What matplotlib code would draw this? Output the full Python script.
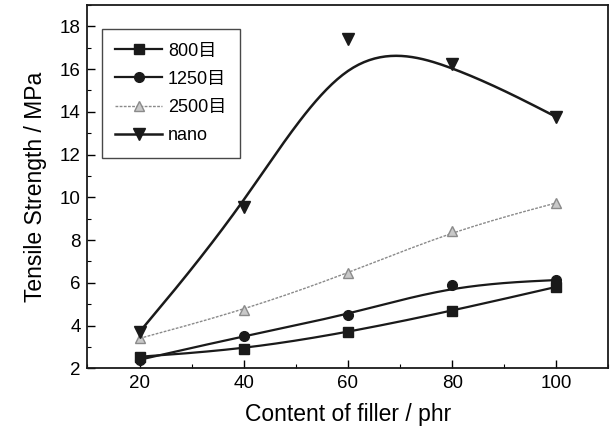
import numpy as np
import matplotlib
matplotlib.use("Agg")
import matplotlib.pyplot as plt
from matplotlib.ticker import MultipleLocator

filler = [20, 40, 60, 80, 100]
s800 = [2.54, 2.89, 3.68, 4.69, 5.81]
s1250 = [2.4, 3.51, 4.5, 5.89, 6.13]
s2500 = [3.4, 4.72, 6.44, 8.43, 9.74]
nano = [3.7, 9.55, 17.42, 16.25, 13.76]
labels = ["800目", "1250目", "2500目", "nano"]

plt.rcParams['font.family'] = ['Liberation Sans', 'Noto Sans CJK SC', 'DejaVu Sans']


def bspline(xv, yv, n=40):
    """Uniform cubic B-spline with tripled end control points (Origin-style B-spline)."""
    P = np.column_stack([xv, yv]).astype(float)
    P = np.vstack([P[0], P[0], P] + [P[-1], P[-1]])
    u = np.linspace(0, 1, n)
    b0 = (1 - u) ** 3 / 6
    b1 = (3 * u ** 3 - 6 * u ** 2 + 4) / 6
    b2 = (-3 * u ** 3 + 3 * u ** 2 + 3 * u + 1) / 6
    b3 = u ** 3 / 6
    segs = []
    for i in range(len(P) - 3):
        seg = (np.outer(b0, P[i]) + np.outer(b1, P[i + 1]) +
               np.outer(b2, P[i + 2]) + np.outer(b3, P[i + 3]))
        segs.append(seg)
    c = np.vstack(segs)
    return c[:, 0], c[:, 1]


fig = plt.figure(figsize=(6.1, 4.36), dpi=100)
ax = fig.add_axes([0.1434, 0.1553, 0.8541, 0.8332])

styles = [
    dict(color='#1a1a1a', marker='s', ms=7, ls='-', lw=1.6, mfc='#1a1a1a', mec='#1a1a1a'),
    dict(color='#1a1a1a', marker='o', ms=7, ls='-', lw=1.6, mfc='#1a1a1a', mec='#1a1a1a'),
    dict(color='#8a8a8a', marker='^', ms=7, ls=(0, (2, 1)), lw=1.0, mfc='#c8c8c8', mec='#8a8a8a'),
    dict(color='#1a1a1a', marker='v', ms=9, ls='-', lw=1.8, mfc='#1a1a1a', mec='#1a1a1a'),
]

for ys, lab, st in zip([s800, s1250, s2500, nano], labels, styles):
    cx, cy = bspline(filler, ys)
    ax.plot(cx, cy, color=st['color'], ls=st['ls'], lw=st['lw'])
    ax.plot(filler, ys, ls='none', marker=st['marker'], ms=st['ms'], mfc=st['mfc'], mec=st['mec'])
    ax.plot([], [], color=st['color'], ls=st['ls'], lw=st['lw'], marker=st['marker'],
            ms=st['ms'], mfc=st['mfc'], mec=st['mec'], label=lab)

ax.set_xlim(10, 110)
ax.set_ylim(2, 19)
ax.set_xticks([20, 40, 60, 80, 100])
ax.set_yticks([2, 4, 6, 8, 10, 12, 14, 16, 18])
ax.xaxis.set_minor_locator(MultipleLocator(10))
ax.yaxis.set_minor_locator(MultipleLocator(1))
ax.tick_params(which='major', direction='in', length=6, width=1.0, labelsize=13.5, pad=5)
ax.tick_params(which='minor', direction='in', length=3, width=0.8)
ax.tick_params(top=False, right=False, which='both')
for sp in ax.spines.values():
    sp.set_linewidth(1.3)
    sp.set_color('#1a1a1a')

ax.set_xlabel("Content of filler / phr", fontsize=16.5, labelpad=8)
ax.set_ylabel("Tensile Strength / MPa", fontsize=16.5, labelpad=9)

leg = ax.legend(loc='upper left', bbox_to_anchor=(0.0278, 0.934), fontsize=13, frameon=True,
                fancybox=False, edgecolor='#1a1a1a', handlelength=2.6, labelspacing=0.62,
                borderpad=0.75, handletextpad=0.3, borderaxespad=0)
leg.get_frame().set_linewidth(1.0)

fig.savefig("out.png", dpi=100)
